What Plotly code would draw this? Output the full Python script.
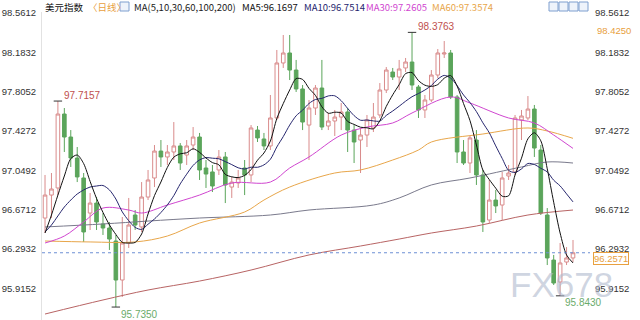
import plotly.graph_objects as go
import pandas as pd

# ---------------- data ----------------
opens = [96.591, 96.812, 96.880, 97.591, 97.370, 97.168, 96.976, 96.639, 96.735, 96.534,
         96.495, 96.370, 95.995, 96.351, 96.620, 96.505, 96.793, 96.976, 97.235, 97.178,
         97.226, 97.284, 97.197, 97.293, 97.370, 97.072, 97.034, 97.053, 97.178, 96.889,
         96.928, 97.072, 97.005, 97.437, 97.351, 97.284, 97.553, 98.082, 98.178, 98.014,
         97.832, 97.485, 97.649, 97.841, 97.476, 97.524, 97.562, 97.611, 97.437, 97.341,
         97.389, 97.457, 97.582, 97.822, 97.995, 97.947, 98.034, 98.091, 97.851, 97.630,
         97.726, 97.966, 98.168, 98.178, 97.755, 97.226, 97.120, 97.341, 97.005, 96.572,
         96.764, 96.716, 96.995, 97.034, 97.534, 97.553, 97.639, 97.245, 96.620, 96.187,
         95.976, 96.168, 96.207]
highs = [97.005, 97.024, 97.7157, 97.649, 97.437, 97.274, 97.024, 96.832, 96.793, 96.639,
         96.553, 96.428, 96.601, 96.784, 96.668, 96.937, 97.053, 97.293, 97.341, 97.293,
         97.514, 97.312, 97.341, 97.466, 97.409, 97.149, 97.101, 97.245, 97.226, 96.986,
         97.053, 97.149, 97.485, 97.476, 97.409, 97.774, 98.207, 98.351, 98.351, 98.111,
         97.870, 97.726, 97.870, 98.111, 97.601, 97.630, 97.697, 97.649, 97.485, 97.457,
         97.582, 97.697, 97.889, 98.043, 98.034, 98.111, 98.130, 98.3763, 97.870, 97.774,
         98.014, 98.216, 98.293, 98.207, 97.774, 97.341, 97.389, 97.437, 97.053, 96.957,
         96.861, 97.034, 97.101, 97.582, 97.630, 97.764, 97.678, 97.293, 96.687, 96.236,
         96.351, 96.312, 96.380]
lows = [96.447, 96.591, 96.812, 97.226, 97.082, 96.937, 96.361, 96.476, 96.476, 96.428,
        96.284, 95.735, 95.832, 96.303, 96.476, 96.457, 96.764, 96.889, 97.082, 97.101,
        97.149, 97.053, 97.101, 97.245, 96.957, 96.880, 96.841, 97.005, 96.735, 96.784,
        96.880, 96.812, 96.937, 97.322, 97.245, 97.245, 97.534, 98.034, 97.918, 97.803,
        97.437, 97.149, 97.582, 97.437, 97.437, 97.380, 97.437, 97.226, 97.120, 97.024,
        97.274, 97.418, 97.553, 97.793, 97.918, 97.822, 97.995, 97.822, 97.553, 97.553,
        97.707, 97.937, 98.130, 97.735, 97.120, 97.101, 97.024, 96.909, 96.457, 96.543,
        96.639, 96.572, 96.957, 97.005, 97.341, 97.534, 97.178, 96.620, 96.139, 95.947,
        95.843, 96.139, 96.168]
closes = [96.812, 96.870, 97.591, 97.370, 97.168, 96.986, 96.457, 96.735, 96.553, 96.495,
          96.389, 95.995, 96.351, 96.524, 96.524, 96.793, 96.957, 97.235, 97.178, 97.226,
          97.284, 97.120, 97.284, 97.370, 97.053, 97.014, 96.899, 97.178, 96.909, 96.937,
          96.976, 97.005, 97.457, 97.361, 97.284, 97.553, 98.082, 98.178, 98.014, 97.832,
          97.514, 97.649, 97.841, 97.466, 97.524, 97.562, 97.611, 97.437, 97.322, 97.389,
          97.534, 97.562, 97.822, 98.014, 97.947, 98.024, 98.091, 97.870, 97.630, 97.726,
          97.966, 98.178, 98.178, 97.755, 97.226, 97.120, 97.361, 97.005, 96.553, 96.764,
          96.707, 96.976, 97.024, 97.553, 97.572, 97.639, 97.264, 96.639, 96.207, 95.966,
          96.159, 96.207, 96.2571]

# first values of MA5 / MA10 (depend on bars left of the window)
ma5_head = [96.447, 96.620, 96.812, 96.995]
ma10_head = [96.457, 96.524, 96.611, 96.697, 96.764, 96.822, 96.861, 96.889, 96.899]

# longer moving averages at some bar indices
ma30_idx = [0, 3, 6, 9, 13, 15, 19, 24, 29, 35, 38, 41, 46, 50, 54, 57, 63, 66, 72, 76, 79, 82]
ma30_val = [96.351, 96.418, 96.553, 96.687, 96.668, 96.639, 96.716, 96.812, 96.928, 96.937,
            97.072, 97.178, 97.389, 97.466, 97.505, 97.601, 97.755, 97.697, 97.553, 97.505,
            97.389, 97.2605]
ma60_idx = [0, 7, 14, 19, 24, 31, 34, 38, 45, 49, 54, 58, 60, 68, 75, 78, 82]
ma60_val = [96.370, 96.361, 96.361, 96.418, 96.543, 96.649, 96.764, 96.889, 97.024, 97.053,
            97.149, 97.245, 97.322, 97.399, 97.457, 97.428, 97.3574]
ma100_idx = [0, 9, 16, 24, 35, 41, 51, 55, 60, 66, 74, 78, 82]
ma100_val = [96.505, 96.534, 96.562, 96.591, 96.620, 96.668, 96.716, 96.784, 96.909, 96.976,
             97.082, 97.130, 97.120]
ma200_idx = [0, 9, 16, 24, 32, 41, 49, 55, 60, 67, 75, 82]
ma200_val = [95.668, 95.803, 95.899, 95.985, 96.091, 96.236, 96.322, 96.389, 96.447, 96.514,
             96.620, 96.668]

y_ticks = [98.5612, 98.1832, 97.8052, 97.4272, 97.0492, 96.6712, 96.2932, 95.9152]
y_tick_text = ["98.5612", "98.1832", "97.8052", "97.4272", "97.0492", "96.6712", "96.2932", "95.9152"]

title_name = "美元指数"
title_period = "〈日线〉"
ma_spec = "MA(5,10,30,60,100,200)"
ma_readouts = ["MA5:96.1697", "MA10:96.7514", "MA30:97.2605", "MA60:97.3574"]
right_extra_label = "98.4250"

hi_marks = [(2, 97.7157, "97.7157"), (57, 98.3763, "98.3763")]
lo_marks = [(11, 95.735, "95.7350"), (80, 95.843, "95.8430")]

# ---------------- styles ----------------
C_UP = "#d98b8b"
C_DN = "#5ba55b"
C_MA5 = "#111111"
C_MA10 = "#26266e"
C_MA30 = "#d046d0"
C_MA60 = "#e8a64a"
C_MA100 = "#7a7a8c"
C_MA200 = "#b86464"
W, H = 640, 320
ML, MR, MT, MB = 42, 50, 12, 0
PW, PH = W - ML - MR, H - MT - MB


def px(x):
    return (x - ML) / PW


def py(y):
    return (H - MB - y) / PH


n = len(closes)
xs = list(range(n))
ma5 = pd.Series(closes).rolling(5).mean().tolist()
ma5[:len(ma5_head)] = ma5_head
ma10 = pd.Series(closes).rolling(10).mean().tolist()
ma10[:len(ma10_head)] = ma10_head

fig = go.Figure()

# long MAs under candles
for ix, iv, col in [(ma200_idx, ma200_val, C_MA200), (ma100_idx, ma100_val, C_MA100),
                    (ma60_idx, ma60_val, C_MA60), (ma30_idx, ma30_val, C_MA30)]:
    fig.add_trace(go.Scatter(x=ix, y=iv, mode="lines",
                             line=dict(color=col, width=1, shape="spline", smoothing=1.0),
                             hoverinfo="skip"))

fig.add_trace(go.Candlestick(
    x=xs, open=opens, high=highs, low=lows, close=closes,
    increasing=dict(line=dict(color=C_UP, width=1), fillcolor="white"),
    decreasing=dict(line=dict(color=C_DN, width=1), fillcolor=C_DN),
    whiskerwidth=0, hoverinfo="skip"))

fig.add_trace(go.Scatter(x=xs, y=ma10, mode="lines",
                         line=dict(color=C_MA10, width=1, shape="spline", smoothing=0.8),
                         hoverinfo="skip"))
fig.add_trace(go.Scatter(x=xs, y=ma5, mode="lines",
                         line=dict(color=C_MA5, width=1, shape="spline", smoothing=0.8),
                         hoverinfo="skip"))

# last price dotted line
fig.add_trace(go.Scatter(x=[-0.47, 84.64], y=[closes[-1], closes[-1]], mode="lines",
                         line=dict(color="#6d8fd4", width=1, dash="dot"), hoverinfo="skip"))

# extreme markers
fig.add_trace(go.Scatter(x=[m[0] for m in hi_marks + lo_marks],
                         y=[m[1] for m in hi_marks + lo_marks], mode="markers",
                         marker=dict(symbol="line-ew", size=6, line=dict(width=1, color="#333333")),
                         hoverinfo="skip"))

# dummy trace for the right axis
fig.add_trace(go.Scatter(x=[0], y=[closes[0]], yaxis="y2", mode="markers",
                         marker=dict(opacity=0), hoverinfo="skip"))

tickfont = dict(family="Liberation Sans, Arial", size=9.5, color="#333333")
fig.update_layout(
    width=W, height=H, margin=dict(l=ML, r=MR, t=MT, b=MB),
    paper_bgcolor="white", plot_bgcolor="white", showlegend=False, boxgap=0.2,
    xaxis=dict(range=[-0.47, 84.64], visible=False, rangeslider=dict(visible=False)),
    yaxis=dict(range=[95.6105, 98.5721], tickvals=y_ticks, ticktext=y_tick_text,
               showgrid=False, zeroline=False, showline=True, linecolor="#e2e2e2",
               ticks="", tickfont=tickfont, ticklabelstandoff=3),
    yaxis2=dict(overlaying="y", side="right", matches="y", tickvals=y_ticks,
                ticktext=y_tick_text, showgrid=False, zeroline=False, showline=False,
                ticks="", tickfont=tickfont, ticklabelstandoff=4),
)

ann = []
# high / low labels
for x, v, t in hi_marks:
    ann.append(dict(x=x, y=v, text=t, showarrow=False, xanchor="left", yanchor="middle",
                    xshift=4, yshift=6, font=dict(family="Liberation Sans, Arial", size=10, color="#c0504d")))
for x, v, t in lo_marks:
    ann.append(dict(x=x, y=v, text=t, showarrow=False, xanchor="left", yanchor="middle",
                    xshift=3, yshift=-7, font=dict(family="Liberation Sans, Arial", size=10, color="#6aab6a")))

# header
hfont = "Noto Sans CJK SC"
head = [(43, title_name, "#111111"), (86, title_period, "#e8a040"), (132, ma_spec, "#222222"),
        (240, ma_readouts[0], "#111111"), (302, ma_readouts[1], C_MA10),
        (364, ma_readouts[2], C_MA30), (430, ma_readouts[3], C_MA60)]
for x0, t, c in head:
    ann.append(dict(xref="paper", yref="paper", x=px(x0), y=py(6.5), text=t, showarrow=False,
                    xanchor="left", yanchor="middle", font=dict(family=hfont, size=9.5, color=c)))

# right side extra labels
ann.append(dict(xref="paper", yref="paper", x=px(595), y=py(31), text=right_extra_label,
                showarrow=False, xanchor="left", yanchor="middle",
                font=dict(family="Liberation Sans, Arial", size=9.5, color="#e8a040")))
ann.append(dict(xref="paper", yref="paper", x=px(593), y=py(258), text=f"{closes[-1]:.4f}",
                showarrow=False, xanchor="left", yanchor="middle", bordercolor="#e8a040",
                borderwidth=1, borderpad=0, bgcolor="white",
                font=dict(family="Liberation Sans, Arial", size=9.5, color="#e8a040")))

# watermark
ann.append(dict(xref="paper", yref="paper", x=px(561), y=py(284), text="FX678", showarrow=False,
                xanchor="center", yanchor="middle",
                font=dict(family="Liberation Sans, Arial", size=35, color="rgba(175,185,205,0.6)")))
fig.update_layout(annotations=ann)

# small toolbar icons
shapes = []
for x0 in [120]:
    shapes.append(dict(type="rect", xref="paper", yref="paper", x0=px(x0), x1=px(x0 + 9),
                       y0=py(11), y1=py(2), line=dict(color="#7e9fcf", width=1), fillcolor="#eef3fb"))
for x0 in [549, 559, 569, 579]:
    shapes.append(dict(type="rect", xref="paper", yref="paper", x0=px(x0), x1=px(x0 + 9),
                       y0=py(11), y1=py(2), line=dict(color="#7e9fcf", width=1), fillcolor="#eef3fb"))
fig.update_layout(shapes=shapes)

fig.write_html("out.html")
